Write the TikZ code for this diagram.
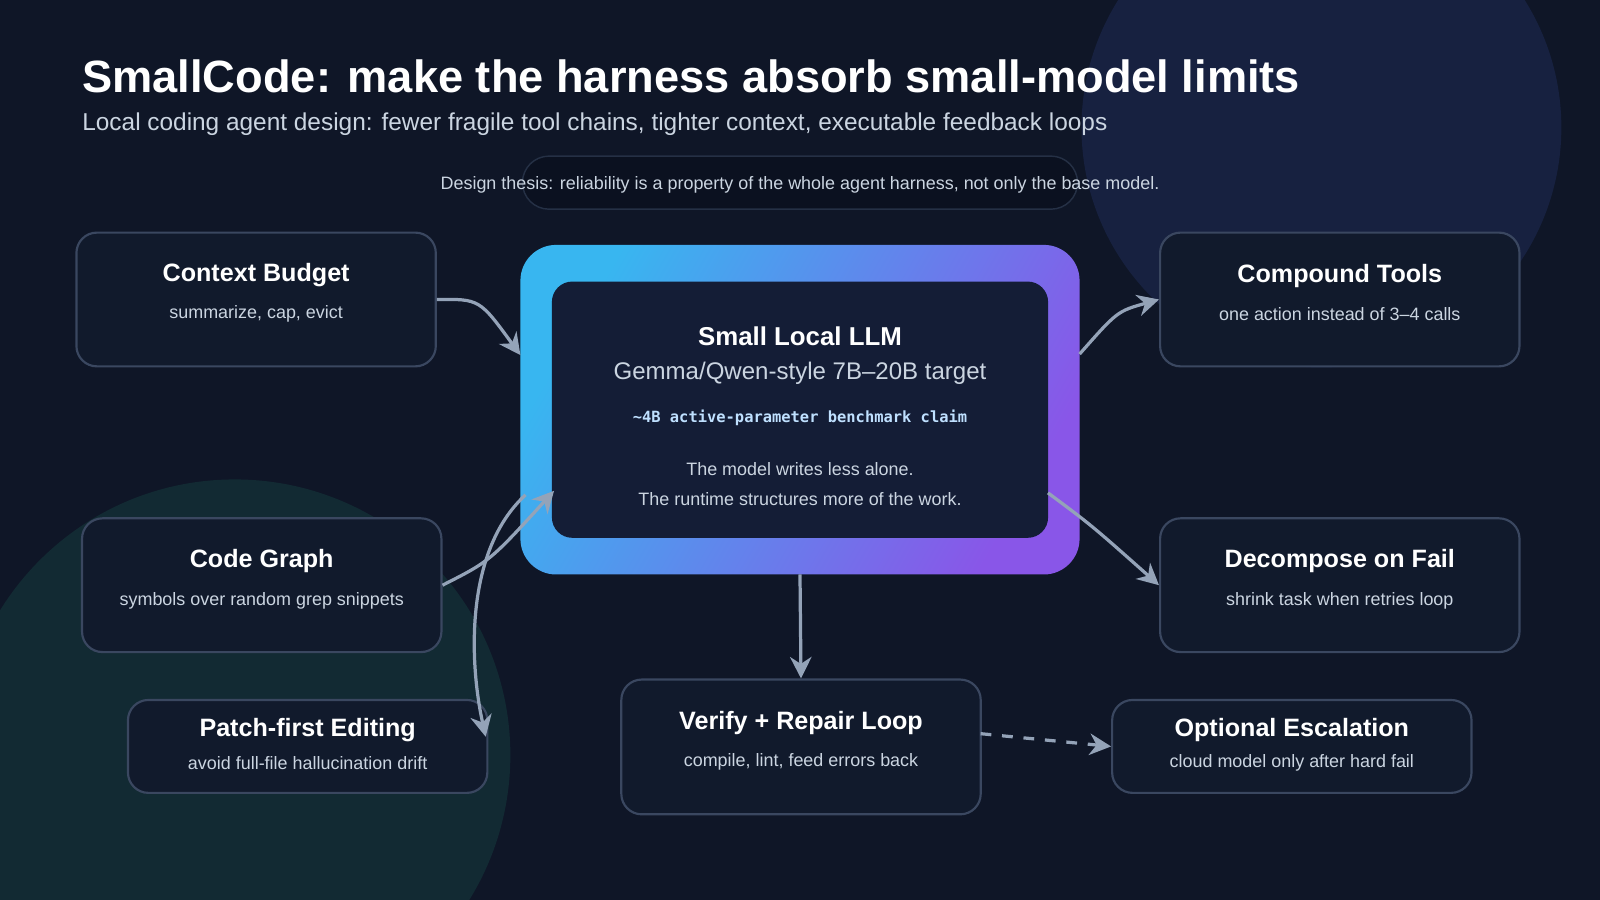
\documentclass[tikz,border=0pt]{standalone}
\usepackage{fontspec}
\setmainfont{Liberation Sans}
\setmonofont{DejaVu Sans Mono}
\usetikzlibrary{arrows.meta,positioning}
\definecolor{bgnavy}{HTML}{0F1627}
\definecolor{cardfill}{HTML}{111A2C}
\definecolor{cardline}{HTML}{3A4760}
\definecolor{arrowgray}{HTML}{94A3B8}
\definecolor{subgray}{HTML}{CBD5E1}
\definecolor{innerfill}{HTML}{141D36}
\definecolor{monoblue}{HTML}{BFE0FF}
\definecolor{glowblue}{HTML}{172140}
\definecolor{glowteal}{HTML}{122A33}
\definecolor{pillfill}{HTML}{0B1120}
\definecolor{pillline}{HTML}{253045}
\definecolor{gradcyan}{HTML}{38B6F0}
\definecolor{gradviolet}{HTML}{8956E8}
\tikzset{
  card/.style={draw=cardline, fill=cardfill, line width=0.6pt, rounded corners=0.2cm,
    minimum width=3.52cm, inner sep=0pt},
  cardtitle/.style={text=white, inner sep=0pt, font=\bfseries\fontsize{7}{8}\selectfont},
  cardsub/.style={text=subgray, inner sep=0pt, font=\fontsize{5}{6}\selectfont},
  link/.style={draw=arrowgray, line width=0.9pt, -{Stealth[length=6pt,width=6pt]}},
}
\begin{document}
\begin{tikzpicture}[x=0.01cm,y=-0.01cm]
    \fill[bgnavy] (0,0) rectangle (1568,882);
    \useasboundingbox (0,0) rectangle (1568,882);
    \begin{scope}
    \clip (0,0) rectangle (1568,882);
    \fill[glowblue] (1295,125) circle (2.35cm);
    \fill[glowteal] (230,740) circle (2.7cm);
    \end{scope}

    % title
    \node[anchor=west, inner sep=0pt, text=white, font=\bfseries\fontsize{12.6}{14}\selectfont] (title) at (80,75) {SmallCode: make the harness absorb small-model limits};
    \node[anchor=west, inner sep=0pt, text=subgray, font=\fontsize{6.8}{8}\selectfont] (subtitle) at (80,122) {Local coding agent design: fewer fragile tool chains, tighter context, executable feedback loops};

    \draw[fill=pillfill, draw=pillline, rounded corners=0.26cm] (512,153) rectangle (1056,205);
    \node[cardsub] (thesis) at (784,181) {Design thesis: reliability is a property of the whole agent harness, not only the base model.};

    % center model
    \shade[left color=gradcyan, right color=gradviolet, shading angle=60, rounded corners=0.35cm] (510,240) rectangle (1058,563);
    \node[fill=innerfill, rounded corners=0.2cm, minimum width=4.86cm, minimum height=2.51cm] (llm) at (784,401.5) {};
    \coordinate (outerW) at (510,348);
    \coordinate (outerE) at (1058,347);
    \coordinate (outerS) at (784,563);
    \coordinate (llmSW) at (543,481);
    \coordinate (llmL) at (515,485);
    \coordinate (llmE) at (1027,483);
    \node[cardtitle, font=\bfseries\fontsize{7.2}{8}\selectfont] (llmtitle) at (784,330) {Small Local LLM};
    \node[text=subgray, inner sep=0pt, font=\fontsize{6.7}{8}\selectfont] at (784,366) {Gemma/Qwen-style 7B–20B target};
    \node[text=monoblue, inner sep=0pt, font=\ttfamily\bfseries\fontsize{4.3}{5}\selectfont] at (784,409) {\char`\~4B active-parameter benchmark claim};
    \node[cardsub] at (784,460) {The model writes less alone.};
    \node[cardsub] at (784,489) {The runtime structures more of the work.};

    % cards
    \node[card, minimum height=1.31cm] (budget) at (251,293.5) {};
    \node[cardtitle] at (251,270) {Context Budget};
    \node[cardsub] at (251,308) {summarize, cap, evict};

    \node[card, minimum height=1.31cm] (graph) at (256.5,573.5) {};
    \node[cardtitle] at (256.5,550) {Code Graph};
    \node[cardsub] at (256.5,589) {symbols over random grep snippets};

    \node[card, minimum height=0.91cm] (patch) at (301.5,731.5) {};
    \node[cardtitle] at (301.5,715) {Patch-first Editing};
    \node[cardsub] at (301.5,748) {avoid full-file hallucination drift};
    \coordinate (patchNE) at (476,722);

    \node[card, minimum height=1.31cm] (tools) at (1313,293.5) {};
    \node[cardtitle] at (1313,270) {Compound Tools};
    \node[cardsub] at (1313,308) {one action instead of 3–4 calls};

    \node[card, minimum height=1.31cm] (decomp) at (1313,573.5) {};
    \node[cardtitle] at (1313,550) {Decompose on Fail};
    \node[cardsub] at (1313,589) {shrink task when retries loop};

    \node[card, minimum height=0.91cm] (escal) at (1266,731.5) {};
    \node[cardtitle] at (1266,715) {Optional Escalation};
    \node[cardsub] at (1266,748) {cloud model only after hard fail};

    \node[card, minimum height=1.32cm] (verify) at (785,732) {};
    \node[cardtitle] at (785,709) {Verify + Repair Loop};
    \node[cardsub] at (785,747) {compile, lint, feed errors back};
    \coordinate (verifyE) at (961,719);

    % connectors
    \draw[link] (budget.east) .. controls (470,293) .. (outerW);
    \draw[link] (graph.east) .. controls (480,550) .. (llmSW);
    \draw[link] (llmL) .. controls (455,540) and (460,650) .. (patchNE);
    \draw[link] (outerE) .. controls (1095,305) .. (tools.west);
    \draw[link] (llmE) .. controls (1070,515) .. (decomp.west);
    \draw[link] (outerS) -- (verify.north);
    \draw[link, dashed] (verifyE) -- (escal.west);
\end{tikzpicture}
\end{document}
